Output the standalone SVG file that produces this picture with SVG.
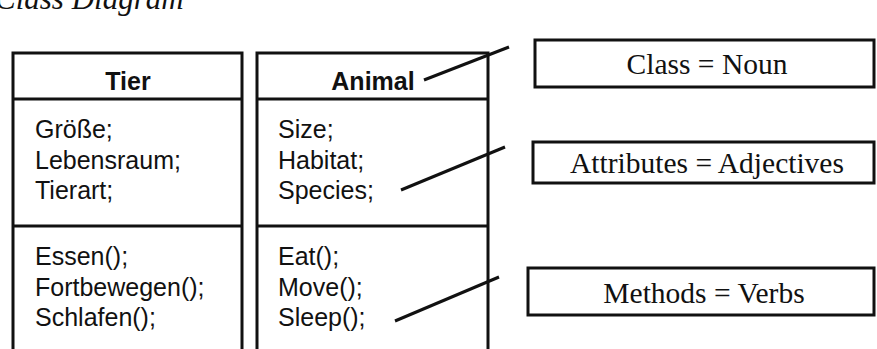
<svg xmlns="http://www.w3.org/2000/svg" width="877" height="349" viewBox="0 0 877 349">
<style>
.box{fill:#fff;stroke:#111;stroke-width:3}
.div{stroke:#111;stroke-width:3}
.hd{font-family:"Liberation Sans",Arial,sans-serif;font-weight:bold;font-size:25px;fill:#111;text-anchor:middle}
.tx{font-family:"Liberation Sans",Arial,sans-serif;font-size:25px;fill:#111}
.lb{font-family:"Liberation Serif","Times New Roman",serif;font-size:29.5px;fill:#111;text-anchor:middle}
.ttl{font-family:"Liberation Serif","Times New Roman",serif;font-style:italic;font-size:31px;fill:#111}
.con{stroke:#111;stroke-width:3;fill:none}
</style>
<rect width="877" height="349" fill="#fff"/>
<text class="ttl" x="-5" y="9">Class Diagram</text>
<g id="tier">
<rect class="box" x="13" y="53" width="229" height="310"/>
<line class="div" x1="13" y1="99" x2="242" y2="99"/>
<line class="div" x1="13" y1="226" x2="242" y2="226"/>
<text class="hd" x="128" y="90">Tier</text>
<text class="tx" x="35" y="138">Größe;</text>
<text class="tx" x="35" y="169">Lebensraum;</text>
<text class="tx" x="35" y="199">Tierart;</text>
<text class="tx" x="35" y="265">Essen();</text>
<text class="tx" x="35" y="296">Fortbewegen();</text>
<text class="tx" x="35" y="326">Schlafen();</text>
</g>
<g id="animal">
<rect class="box" x="257" y="53" width="231" height="310"/>
<line class="div" x1="257" y1="99" x2="488" y2="99"/>
<line class="div" x1="257" y1="226" x2="488" y2="226"/>
<text class="hd" x="373" y="90">Animal</text>
<text class="tx" x="278" y="138">Size;</text>
<text class="tx" x="278" y="169">Habitat;</text>
<text class="tx" x="278" y="199">Species;</text>
<text class="tx" x="278" y="265">Eat();</text>
<text class="tx" x="278" y="296">Move();</text>
<text class="tx" x="278" y="326">Sleep();</text>
</g>
<g id="class-noun">
<rect class="box" x="535" y="40" width="339" height="47"/>
<text class="lb" x="707" y="74">Class = Noun</text>
</g>
<g id="attributes-adjectives">
<rect class="box" x="533" y="142" width="341" height="41"/>
<text class="lb" x="707" y="173">Attributes = Adjectives</text>
</g>
<g id="methods-verbs">
<rect class="box" x="528" y="268" width="346" height="47"/>
<text class="lb" x="704" y="303">Methods = Verbs</text>
</g>
<g id="connectors">
<line class="con" x1="424" y1="80" x2="509" y2="47"/>
<line class="con" x1="401" y1="190" x2="505" y2="147"/>
<line class="con" x1="395" y1="321" x2="499" y2="277"/>
</g>
</svg>
